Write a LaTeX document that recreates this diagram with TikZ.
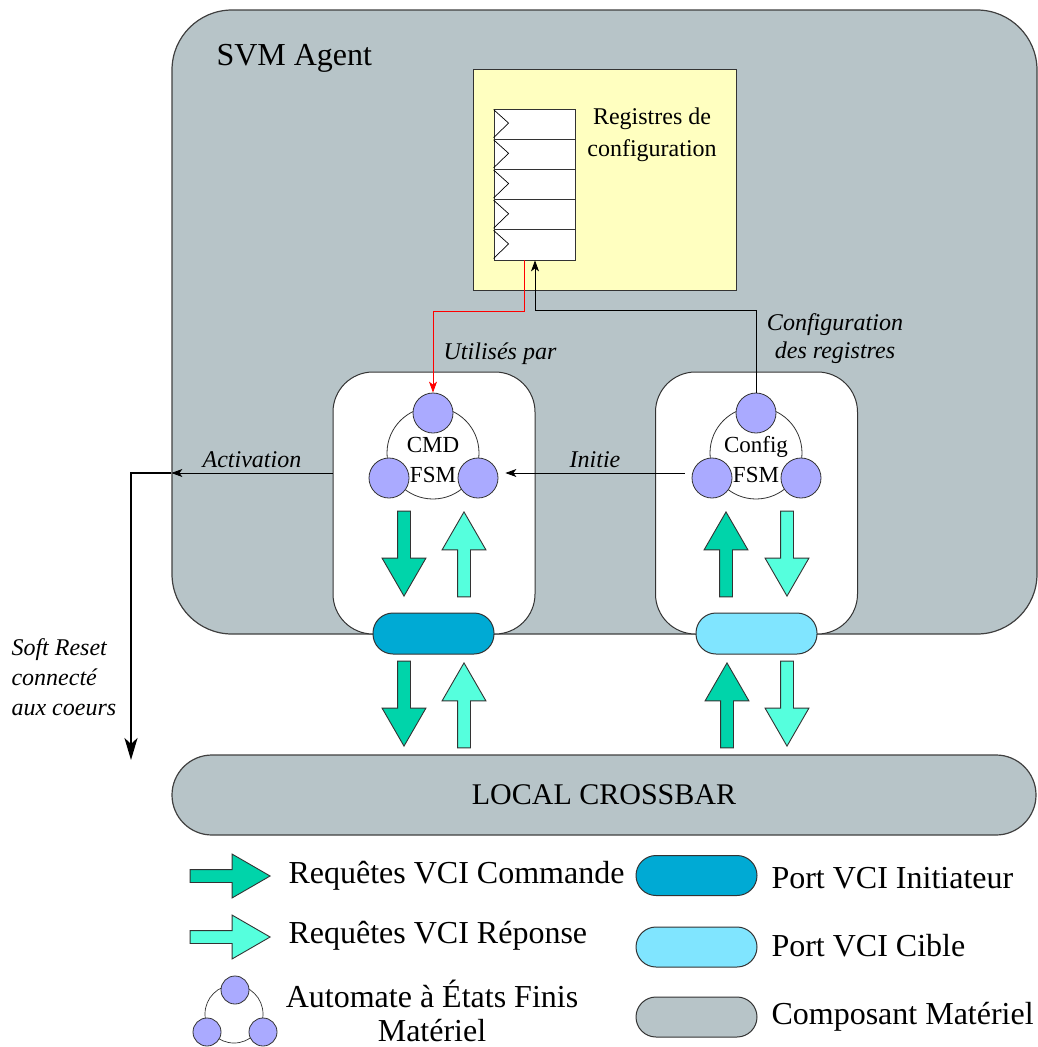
\documentclass[tikz,border=0pt]{standalone}
\usepackage{fontspec}
\setmainfont{Liberation Serif}
\usetikzlibrary{arrows.meta,shapes.arrows}

\definecolor{compgray}{HTML}{B7C4C8}
\definecolor{regyellow}{HTML}{FFFFC0}
\definecolor{fsmblue}{HTML}{AAAAFF}
\definecolor{cmdgreen}{HTML}{00D4AA}
\definecolor{rspgreen}{HTML}{55FFDD}
\definecolor{initblue}{HTML}{00AAD4}
\definecolor{cibleblue}{HTML}{80E5FF}

\begin{document}
\begin{tikzpicture}[x=1pt, y=-1pt,
    comp/.style={draw=black!75, fill=compgray, line width=1.2pt, inner sep=0pt},
    sub/.style={draw=black!80, fill=white, line width=1pt, rounded corners=40pt,
                minimum width=202pt, minimum height=262pt},
    port/.style={draw=black!80, line width=1pt, rounded corners=20pt,
                 minimum width=121pt, minimum height=41pt, inner sep=0pt},
    state/.style={circle, draw=black!80, fill=fsmblue, line width=0.8pt,
                  minimum size=40pt, inner sep=0pt},
    ring/.style={circle, draw=black!80, fill=white, line width=0.8pt,
                 minimum size=92pt, inner sep=0pt},
    req/.style={single arrow, draw=black!80, line width=0.9pt, minimum height=85pt,
                inner sep=6pt, single arrow head extend=15.5pt, single arrow tip angle=60,
                anchor=tip},
    cmdreq/.style={req, fill=cmdgreen},
    rspreq/.style={req, fill=rspgreen},
    reg/.style={draw=black!80, fill=white, line width=0.8pt, minimum width=81pt,
                minimum height=30.2pt, inner sep=0pt},
    lbl/.style={font=\fontsize{24}{28}\selectfont\itshape, align=center},
    big/.style={font=\fontsize{32}{35}\selectfont},
    wire/.style={line width=0.8pt, -{Stealth[length=11pt, width=8pt, inset=3pt]}}]
  \useasboundingbox (0,0) rectangle (1038,1047);
  % the agent itself
  \node[comp, rounded corners=60pt, minimum width=865pt, minimum height=624pt] (svm) at (604.5,322) {};
  \node[big, anchor=west] (svmtxt) at (213,58) {SVM Agent};
  % configuration registers
  \node[draw=black!80, fill=regyellow, line width=0.9pt, minimum width=263pt,
        minimum height=221pt] (cfgregs) at (604.5,179.5) {};
  \foreach \k in {0,...,4} {
    \node[reg] (r\k) at (534.5,124.1+30.2*\k) {};
    \draw[line width=0.7pt] ([yshift=-1pt]r\k.north west) -- ([xshift=15pt,yshift=1pt]r\k.west)
      -- ([yshift=2pt]r\k.south west);
  }
  \node[font=\fontsize{24}{32}\selectfont, align=center] (regtxt) at (652,135)
    {Registres de\\configuration};
  % the two FSM blocks
  \node[sub] (cmd) at (434,503) {};
  \node[sub] (cfg) at (756.5,503) {};
  \foreach \f/\x/\t in {cmd/433/CMD, cfg/756/Config} {
    \node[ring] (\f-ring) at (\x,453) {};
    \node[state] (\f A) at (\x,413) {};
    \node[state] (\f B) at (\x-44,478) {};
    \node[state] (\f C) at (\x+45,478) {};
    \node[font=\fontsize{23}{30}\selectfont, align=center] (\f-txt) at (\x,460) {\t\\FSM};
  }
  \node[port, fill=initblue] (cmdport) at (433.5,633.5) {};
  \node[port, fill=cibleblue] (cfgport) at (756.5,633.5) {};
  % VCI requests, placed by their tips
  \node[cmdreq, rotate=-90] (cmdreq1) at (404,597) {};
  \node[rspreq, rotate=90] (cmdrsp1) at (464,511) {};
  \node[cmdreq, rotate=-90] (cmdreq2) at (404,747) {};
  \node[rspreq, rotate=90] (cmdrsp2) at (464,662) {};
  \node[cmdreq, rotate=90] (cfgreq1) at (726,511) {};
  \node[rspreq, rotate=-90] (cfgrsp1) at (787,597) {};
  \node[cmdreq, rotate=90] (cfgreq2) at (727,662) {};
  \node[rspreq, rotate=-90] (cfgrsp2) at (787,747) {};
  % crossbar
  \node[comp, rounded corners=40pt, minimum width=864pt, minimum height=80pt,
        font=\fontsize{30}{34}\selectfont] (xbar) at (604,795) {LOCAL CROSSBAR};
  % links
  \draw[wire, red] ([xshift=-10pt]r4.south) -- ++(0,51) -| (cmdA.north);
  \draw[wire] (cfgA.north) -- ++(0,-82) -| ([xshift=0.5pt]r4.south);
  \node[lbl] (usedlbl) at (500,354) {Utilisés par};
  \node[lbl] (cfglbl) at (835,339) {Configuration\\des registres};
  \draw[wire] ([xshift=-7pt,yshift=5pt]cfgB.west) -- ([xshift=7pt,yshift=5pt]cmdC.east)
    node[midway, above=2pt, lbl] (initlbl) {Initie};
  \coordinate (act) at ([yshift=30pt]cmd.west);
  \coordinate (reset) at (131,760);
  \draw[wire] (act) -- (act -| svm.west) node[midway, above=2pt, lbl] (actlbl) {Activation};
  \draw[line width=2.5pt, -{Stealth[length=22pt, width=13pt, inset=6pt]}] (act -| svm.west) -| (reset);
  \node[lbl, align=left, anchor=west, font=\fontsize{24}{30}\selectfont\itshape] (resetlbl)
    at (8,677) {Soft Reset\\connecté\\aux coeurs};
  % legend
  \node[cmdreq, minimum height=80pt, anchor=tip] (legcmd) at (271,876) {};
  \node[big, anchor=west] (legcmdtxt) at (285,876) {Requêtes VCI Commande};
  \node[rspreq, minimum height=80pt, anchor=tip] (legrsp) at (271,937) {};
  \node[big, anchor=west] (legrsptxt) at (285,936) {Requêtes VCI Réponse};
  \node[ring, minimum size=58pt, line width=0.7pt] (legring) at (234,1014) {};
  \node[state, minimum size=28pt] (legA) at (235,990) {};
  \node[state, minimum size=28pt] (legB) at (207,1032) {};
  \node[state, minimum size=28pt] (legC) at (263,1032) {};
  \node[big, align=center, font=\fontsize{32}{34}\selectfont, inner ysep=1pt] (legfsmtxt)
    at (432,1011) {Automate à États Finis\\Matériel};
  \node[port, fill=initblue, minimum height=40pt] (legini) at (696.5,875.5) {};
  \node[big, anchor=west] (leginitxt) at (768,878) {Port VCI Initiateur};
  \node[port, fill=cibleblue, minimum height=40pt] (legcib) at (696.5,947) {};
  \node[big, anchor=west] (legcibtxt) at (768,946) {Port VCI Cible};
  \node[port, fill=compgray, minimum height=40pt] (legcomp) at (696.5,1017) {};
  \node[big, anchor=west] (legcomptxt) at (768,1017) {Composant Matériel};
\end{tikzpicture}
\end{document}
